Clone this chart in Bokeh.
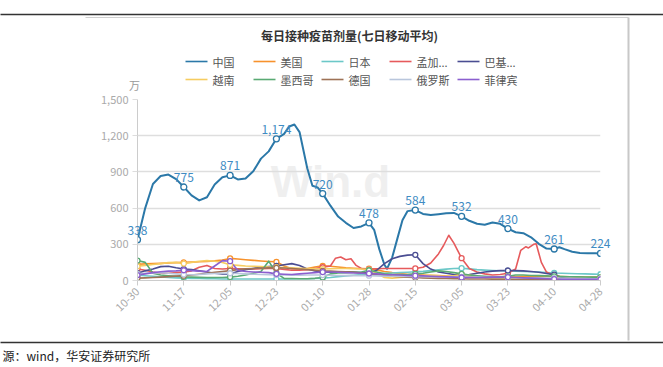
import math
from bokeh.plotting import figure
from bokeh.models import Range1d, FixedTicker, NumeralTickFormatter
from bokeh.core.properties import value
from bokeh.embed import file_html
from bokeh.resources import INLINE

# ---------------- data ----------------
tick_days = [0, 18, 36, 54, 72, 90, 108, 126, 144, 162, 180]
tick_labels = ["10-30", "11-17", "12-05", "12-23", "01-10", "01-28",
               "02-15", "03-05", "03-23", "04-10", "04-28"]
y_ticks = [0, 300, 600, 900, 1200, 1500]

china_days = [0, 3, 6, 9, 12, 15, 18, 21, 24, 27, 30, 33, 36, 39, 42, 45, 48, 51, 54, 57,
              59, 61, 63, 66, 68, 70, 72, 75, 78, 81, 84, 87, 90, 92, 94, 96, 97, 99, 101, 103,
              105, 108, 111, 114, 117, 120, 123, 126, 129, 132, 135, 138, 141, 144, 147, 150, 153, 156, 159, 162,
              164, 166, 169, 172, 175, 178, 180]
china_vals = [338, 600, 800, 866, 878, 840, 775, 706, 664, 690, 795, 855, 871, 838, 845, 905, 1010, 1070, 1174, 1215,
              1276, 1293, 1230, 930, 785, 772, 720, 620, 530, 478, 435, 448, 478, 420, 260, 130, 97, 190, 345, 500,
              575, 584, 552, 542, 550, 558, 560, 532, 495, 470, 462, 480, 470, 430, 400, 392, 358, 304, 265, 261,
              276, 260, 238, 228, 226, 226, 224]

bgd_days = [0, 3, 6, 9, 12, 15, 18, 21, 24, 27, 30, 33, 36, 39, 42, 45, 48, 51, 54, 57,
            60, 63, 66, 69, 72, 75, 77, 79, 81, 83, 85, 87, 90, 93, 96, 99, 102, 105, 108, 111,
            114, 117, 119, 121, 123, 126, 129, 132, 135, 138, 141, 144, 147, 149, 151, 152, 154, 155, 157, 159,
            162, 165, 168, 171, 174, 177, 180]
bgd_vals = [95, 85, 70, 60, 60, 65, 70, 80, 110, 125, 100, 95, 100, 98, 95, 95, 98, 100, 100, 92,
            85, 85, 90, 100, 110, 120, 185, 195, 172, 180, 125, 100, 95, 98, 100, 100, 100, 100, 100, 110,
            145, 220, 290, 375, 310, 185, 100, 70, 55, 45, 50, 60, 95, 250, 280, 270, 300, 305, 150, 70,
            40, 28, 22, 18, 16, 15, 15]

days = list(range(0, 181, 3))
usa_vals = [135, 138, 140, 142, 145, 148, 150, 152, 155, 158, 163, 170, 183, 178, 172, 167, 162, 158, 155, 120,
            98, 95, 100, 112, 122, 118, 112, 105, 102, 100, 98, 88, 75, 65, 58, 52, 48, 45, 42, 40,
            36, 33, 30, 30, 28, 28, 30, 30, 32, 33, 35, 36, 35, 34, 33, 32, 30, 30, 29, 28, 28]
japan_vals = [45, 40, 35, 30, 25, 22, 20, 18, 16, 15, 14, 13, 12, 12, 12, 12, 12, 12, 12,
              12, 13, 14, 15, 17, 20, 25, 32, 38, 44, 50, 55, 58, 60, 62, 65, 68, 72,
              76, 82, 88, 94, 100, 102, 96, 90, 86, 83, 81, 80, 78, 75, 72, 70, 66, 62,
              60, 58, 56, 55, 53, 52]
pak_vals = [60, 80, 95, 115, 118, 105, 95, 90, 80, 70, 60, 55, 55, 75, 90, 100, 110, 115, 120,
            130, 140, 125, 95, 80, 70, 68, 70, 72, 70, 65, 62, 85, 140, 180, 200, 210, 213,
            140, 95, 70, 60, 50, 45, 50, 60, 70, 78, 82, 83, 82, 80, 75, 68, 58, 48,
            25, 12, 8, 6, 5, 5]
vn_vals = [118, 125, 132, 140, 148, 150, 140, 150, 160, 165, 160, 150, 130, 125, 120, 118, 115, 112, 110,
           108, 105, 102, 100, 98, 95, 98, 100, 100, 98, 95, 90, 60, 25, 20, 25, 30, 35,
           40, 45, 40, 35, 40, 50, 45, 35, 25, 20, 18, 20, 22, 22, 20, 18, 16, 15,
           14, 14, 13, 12, 12, 12]
mex_vals = [165, 150, 60, 45, 40, 35, 30, 28, 26, 25, 25, 25, 28, 35, 45, 60, 75, 160, 60,
            18, 16, 15, 15, 18, 25, 55, 62, 65, 68, 70, 85, 70, 55, 50, 48, 50, 55,
            60, 70, 80, 75, 65, 55, 45, 40, 35, 30, 30, 35, 45, 45, 42, 40, 38, 35,
            32, 30, 30, 28, 28, 28]
ger_vals = [20, 22, 25, 28, 32, 36, 40, 45, 52, 60, 68, 75, 82, 90, 96, 100, 102, 105, 105,
            104, 100, 95, 90, 85, 80, 78, 75, 72, 68, 62, 55, 48, 42, 36, 32, 28, 25,
            22, 20, 18, 16, 15, 14, 13, 12, 12, 11, 11, 10, 10, 10, 10, 9, 9, 9,
            8, 8, 8, 8, 8, 8]
rus_vals = [55, 60, 62, 65, 60, 55, 50, 48, 50, 55, 58, 60, 60, 58, 55, 52, 50, 48, 45,
            45, 44, 44, 45, 45, 45, 44, 42, 40, 40, 40, 40, 38, 36, 35, 35, 34, 33,
            32, 32, 31, 30, 30, 30, 28, 28, 27, 26, 25, 25, 24, 23, 22, 21, 20, 20,
            19, 18, 17, 16, 15, 15]
phl_vals = [45, 55, 65, 72, 78, 80, 85, 82, 78, 75, 120, 165, 160, 85, 75, 70, 68, 65, 55,
            52, 50, 55, 60, 65, 70, 70, 68, 65, 62, 60, 58, 55, 50, 48, 45, 42, 40,
            38, 35, 32, 30, 28, 25, 25, 25, 26, 28, 28, 28, 25, 22, 20, 18, 15, 12,
            10, 10, 10, 10, 10, 10]

legend_names = ["中国", "美国", "日本", "孟加...", "巴基...", "越南", "墨西哥", "德国", "俄罗斯", "菲律宾"]
colors = ["#2b78a8", "#f7922c", "#6cc8c8", "#e65a5c", "#4a4d92",
          "#f6cc60", "#5aaa74", "#9e7256", "#b9c6dc", "#8b5fcf"]

series = [
    (china_days, china_vals), (days, usa_vals), (days, japan_vals), (bgd_days, bgd_vals), (days, pak_vals),
    (days, vn_vals), (days, mex_vals), (days, ger_vals), (days, rus_vals), (days, phl_vals),
]

# ---------------- layout (picture pixels) ----------------
W, H = 663, 367
FR_L, FR_R, FR_T, FR_B = 137, 600, 99, 280
X_MAX = tick_days[-1]
Y_MAX = y_ticks[-1]


def wx(X):
    return (X - FR_L) / (FR_R - FR_L) * X_MAX


def wy(Y):
    return (FR_B - Y) / (FR_B - FR_T) * Y_MAX


FONT = value("Noto Sans CJK SC")

p = figure(width=W, height=H, output_backend="svg", toolbar_location=None,
           x_range=Range1d(0, X_MAX), y_range=Range1d(0, Y_MAX),
           min_border_left=FR_L, min_border_right=W - FR_R,
           min_border_top=FR_T, min_border_bottom=H - FR_B)
p.outline_line_color = None
p.background_fill_color = "white"
p.border_fill_color = "white"

# axes
p.xaxis.ticker = FixedTicker(ticks=tick_days)
p.xaxis.major_label_overrides = {d: l for d, l in zip(tick_days, tick_labels)}
p.xaxis.major_label_orientation = math.pi / 4
p.xaxis.axis_line_color = "#cccccc"
p.xaxis.major_tick_line_color = "#cccccc"
p.xaxis.major_tick_out = 5
p.xaxis.major_tick_in = 0
p.xaxis.minor_tick_line_color = None
p.xaxis.major_label_text_color = "#aaaaaa"
p.xaxis.major_label_text_font = "Noto Sans CJK SC"
p.xaxis.major_label_text_font_size = "11px"
p.xaxis.major_label_standoff = 4

p.yaxis.ticker = FixedTicker(ticks=y_ticks)
p.yaxis.formatter = NumeralTickFormatter(format="0,0")
p.yaxis.axis_line_color = "#cccccc"
p.yaxis.major_tick_line_color = "#dddddd"
p.yaxis.major_tick_out = 5
p.yaxis.major_tick_in = 0
p.yaxis.minor_tick_line_color = None
p.yaxis.major_label_text_color = "#aaaaaa"
p.yaxis.major_label_text_font = "Noto Sans CJK SC"
p.yaxis.major_label_text_font_size = "11px"
p.yaxis.major_label_standoff = 4

p.xgrid.grid_line_color = None
p.ygrid.grid_line_color = "#dedede"
p.ygrid.grid_line_width = 1.5

# watermark
p.text(x=[wx(330)], y=[wy(181)], text=["Win.d"], text_font=value("Arial"),
       text_font_style="bold", text_font_size="44px", text_color="#efefef",
       text_align="center", text_baseline="middle", level="underlay")

for i, (d, v) in enumerate(series):
    lw = 2 if i == 0 else 1.6
    p.line(d, v, line_color=colors[i], line_width=lw, line_join="round")
for i, (d, v) in enumerate(series):
    md = [dd for dd in d if dd in tick_days]
    mv = [vv for dd, vv in zip(d, v) if dd in tick_days]
    p.scatter(md, mv, marker="circle", size=6 if i == 0 else 5, fill_color="white",
              line_color=colors[i], line_width=1.3)

# China value labels
lab_d = [dd for dd in china_days if dd in tick_days]
lab_v = [vv for dd, vv in zip(china_days, china_vals) if dd in tick_days]
p.text(x=lab_d, y=lab_v, text=[f"{v:,}" for v in lab_v], text_font=FONT,
       text_font_size="12px", text_color="#3f8cc3", text_align="center",
       text_baseline="bottom", y_offset=-5, level="overlay")

# title
p.text(x=[wx(349)], y=[wy(35)], text=["每日接种疫苗剂量(七日移动平均)"], text_font=FONT,
       text_font_style="bold", text_font_size="12px", text_color="#333333",
       text_align="center", text_baseline="middle", level="overlay")

# unit
p.text(x=[wx(134)], y=[wy(84)], text=["万"], text_font=FONT, text_font_size="11px",
       text_color="#999999", text_align="center", text_baseline="middle", level="overlay")

# legend
for k, name in enumerate(legend_names):
    row, col = divmod(k, 5)
    X0 = 185 + 68 * col
    Yc = 61 + 18 * row
    p.segment(x0=[wx(X0)], y0=[wy(Yc)], x1=[wx(X0 + 22)], y1=[wy(Yc)],
              line_color=colors[k], line_width=1.6, level="overlay")
    p.scatter([wx(X0 + 11)], [wy(Yc)], marker="circle", size=8, fill_color="white",
              line_color=colors[k], line_width=1.5, level="overlay")
    p.text(x=[wx(X0 + 27)], y=[wy(Yc)], text=[name], text_font=FONT, text_font_size="11px",
           text_color="#555555", text_align="left", text_baseline="middle", level="overlay")

# page frame lines
p.segment(x0=[wx(0)], y0=[wy(14)], x1=[wx(663)], y1=[wy(14)], line_color="#333333",
          line_width=1.5, level="overlay")
p.segment(x0=[wx(85)], y0=[wy(17)], x1=[wx(628)], y1=[wy(17)], line_color="#cfcfcf",
          line_width=1, level="overlay")
p.segment(x0=[wx(628)], y0=[wy(17)], x1=[wx(628)], y1=[wy(340)], line_color="#c8c8c8",
          line_width=2, level="overlay")
p.segment(x0=[wx(0)], y0=[wy(342)], x1=[wx(663)], y1=[wy(342)], line_color="#333333",
          line_width=1.5, level="overlay")
p.text(x=[wx(2)], y=[wy(355)], text=["源：wind，华安证券研究所"], text_font=FONT,
       text_font_size="12px", text_color="#222222", text_align="left",
       text_baseline="middle", level="overlay")

open("out.html", "w").write(file_html(p, INLINE))
